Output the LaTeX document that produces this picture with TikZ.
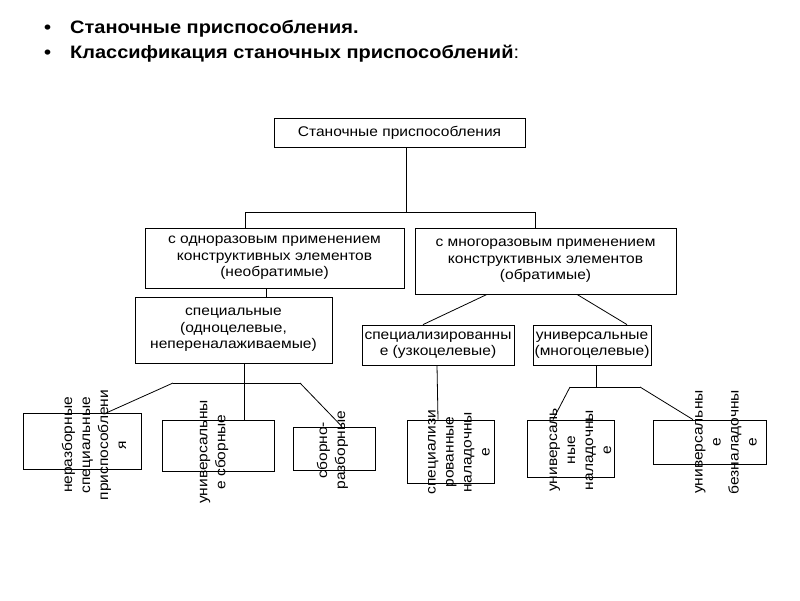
\documentclass[tikz,border=0pt]{standalone}
\usepackage{fontspec}
\setmainfont[FakeStretch=1.11]{Liberation Sans}
\usepackage{tikz}
\usetikzlibrary{positioning}

\begin{document}
\begin{tikzpicture}[
  x=1pt, y=-1pt,
  box/.style={rectangle, draw=black, line width=0.8pt, align=center, inner sep=0pt, font=\fontsize{14}{16.5}\selectfont},
  leaf/.style={rectangle, draw=black, line width=0.8pt, inner sep=0pt},
  leaftext/.style={rotate=90, align=center, inner sep=0pt, font=\fontsize{14}{18}\selectfont},
  head/.style={anchor=base west, inner sep=0pt, font=\fontsize{18}{22}\selectfont\bfseries},
  link/.style={line width=0.8pt}
]
\useasboundingbox (0,0) rectangle (800,600);

% title
\node[head] (dot1) at (44,33) {•};
\node[head] (head1) at (70,33) {Станочные приспособления.};
\node[head] (dot2) at (44,58) {•};
\node[head] (head2) at (70,58) {Классификация станочных приспособлений\mdseries:};

% upper levels
\node[box, minimum width=251pt, minimum height=29pt] (root) at (399.5,132.5) {Станочные приспособления};
\node[box, minimum width=259pt, minimum height=60pt] (once) at (274.5,258) {с одноразовым применением\\конструктивных элементов\\(необратимые)};
\node[box, minimum width=261pt, minimum height=66pt] (multi) at (545.5,261) {с многоразовым применением\\конструктивных элементов\\(обратимые)};
\node[box, minimum width=197pt, minimum height=66pt] (special) at (233.5,330) {специальные\\(одноцелевые,\\непереналаживаемые)};
\node[box, minimum width=152pt, minimum height=40pt] (specz) at (438,345) {специализированны\\е (узкоцелевые)};
\node[box, minimum width=118pt, minimum height=40pt] (univ) at (592,345) {универсальные\\(многоцелевые)};

% bottom level
\node[leaf, minimum width=118pt, minimum height=56pt] (nerazb) at (82,441) {};
\node[leaf, minimum width=112pt, minimum height=51pt] (usb) at (218,445.5) {};
\node[leaf, minimum width=82pt, minimum height=43pt] (sbraz) at (334,448.5) {};
\node[leaf, minimum width=87pt, minimum height=63pt] (spnal) at (450.5,451.5) {};
\node[leaf, minimum width=87pt, minimum height=57pt] (unnal) at (570.5,448.5) {};
\node[leaf, minimum width=113pt, minimum height=44pt] (unbez) at (709.5,442) {};

\node[leaftext] (nerazb-t) at (94,445) {неразборные\\специальные\\приспособлени\\я};
\node[leaftext] (usb-t) at (214,452) {универсальны\\е сборные};
\node[leaftext] (sbraz-t) at (332.5,450) {сборно-\\разборные};
\node[leaftext] (spnal-t) at (459,452) {специализи\\рованные\\наладочны\\е};
\node[leaftext] (unnal-t) at (580.5,450) {универсаль\\ные\\наладочны\\е};
\node[leaftext] (unbez-t) at (726,442) {универсальны\\е\\безналадочны\\е};

% junctions
\coordinate (j1) at (406,212);
\coordinate (j1l) at (245,212);
\coordinate (j1r) at (535,212);
\coordinate (j2) at (266,292);
\coordinate (j3) at (244,383);
\coordinate (j3l) at (173,383);
\coordinate (j3r) at (300,383);
\coordinate (j4) at (596,387);
\coordinate (j4l) at (570,387);
\coordinate (j4r) at (640,387);

\draw[link] (root.south -| j1) -- (j1);
\draw[link] (once.north -| j1l) -- (j1l) -- (j1r) -- (multi.north -| j1r);
\draw[link] (once.south -| j2) -- (special.north -| j2);
\draw[link] ([xshift=-58.5pt]multi.south) -- ([xshift=-15pt]specz.north);
\draw[link] ([xshift=31.5pt]multi.south) -- ([xshift=35pt]univ.north);

\draw[link] (special.south -| j3) -- (j3);
\draw[link] (j3l) -- (j3r);
\draw[link] (j3l) -- ([xshift=25pt]nerazb.north);
\draw[link] (j3) -- (usb.north -| j3);
\draw[link] (j3r) -- ([xshift=8pt]sbraz.north);

\draw[link] ([xshift=-1pt]specz.south) -- (spnal.north -| specz.south);
\draw[link] (univ.south -| j4) -- (j4);
\draw[link] (j4l) -- (j4r);
\draw[link] (j4l) -- ([xshift=-17.5pt]unnal.north);
\draw[link] (j4r) -- ([xshift=-16.5pt]unbez.north);
\end{tikzpicture}
\end{document}
